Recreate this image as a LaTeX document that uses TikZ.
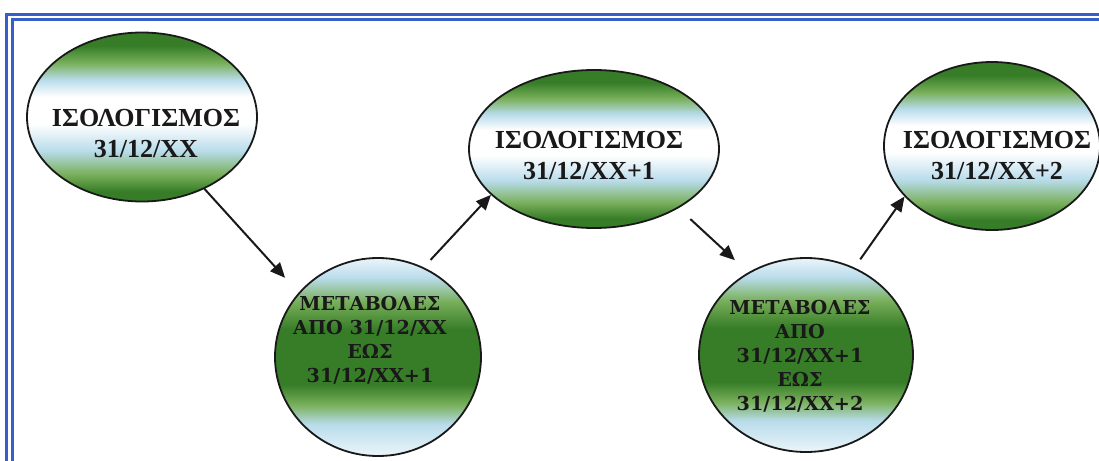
\documentclass[tikz,border=0pt]{standalone}
\usepackage{xcolor}
\usepackage{fontspec}
\setmainfont{Liberation Serif}
\newfontfamily\chgfont{DejaVu Serif}
\usepackage{tikz}
\usetikzlibrary{shapes.geometric, arrows.meta}

\definecolor{framebl}{RGB}{55,95,200}
\definecolor{gdark}{RGB}{55,125,40}
\definecolor{gmid}{RGB}{120,175,90}
\definecolor{skyb}{RGB}{185,220,235}
\definecolor{pale}{RGB}{235,245,250}
\definecolor{ink}{RGB}{25,25,25}

\pgfdeclareverticalshading{balshade}{100bp}{color(0bp)=(gdark); color(28bp)=(gdark); color(33bp)=(gmid); color(40bp)=(skyb); color(48bp)=(white); color(56bp)=(white); color(61bp)=(skyb); color(66bp)=(gmid); color(71bp)=(gdark); color(100bp)=(gdark)}
\pgfdeclareverticalshading{chgshade}{100bp}{color(0bp)=(pale); color(25bp)=(pale); color(33bp)=(skyb); color(38bp)=(gmid); color(43bp)=(gdark); color(57bp)=(gdark); color(64bp)=(gmid); color(70bp)=(skyb); color(75bp)=(pale); color(100bp)=(pale)}

\begin{document}
\begin{tikzpicture}[x=0.5pt,y=-0.5pt,
                    frame/.style={draw=framebl,line width=1.2pt},
                    bal node/.style={ellipse,draw=ink,line width=0.9pt,inner sep=0pt,shade,shading=balshade},
                    chg node/.style={ellipse,draw=ink,line width=0.9pt,inner sep=0pt,shade,shading=chgshade},
                    bal text/.style={align=center,text=ink,font=\fontsize{13}{15.5}\selectfont\bfseries},
                    chg text/.style={align=center,text=ink,font=\chgfont\fontsize{9.6}{12}\selectfont\bfseries},
                    arr/.style={-{Triangle[length=7.5pt,width=6.5pt]},draw=ink,line width=1pt}]
  \useasboundingbox (0,0) rectangle (1099,461);

  % double blue frame, only top and left sides show
  \draw[frame] (6.5,461) |- (1099,14.5);
  \draw[frame] (12.5,461) |- (1099,19.5);

  \node[bal node,minimum width=230pt*0.5,minimum height=169pt*0.5] (1) at (142,117) {};
  \node[chg node,minimum width=206pt*0.5,minimum height=198pt*0.5] (2) at (378,357) {};
  \node[bal node,minimum width=250pt*0.5,minimum height=158pt*0.5] (3) at (594,149) {};
  \node[chg node,minimum width=214pt*0.5,minimum height=194pt*0.5] (4) at (806,355) {};
  \node[bal node,minimum width=216pt*0.5,minimum height=168pt*0.5] (5) at (992,146) {};

  \node[bal text] (t1) at (146,134) {ΙΣΟΛΟΓΙΣΜΟΣ\\31/12/XX};
  \node[chg text] (t2) at (370,340) {ΜΕΤΑΒΟΛΕΣ\\ΑΠΟ 31/12/XX\\ΕΩΣ\\31/12/XX+1};
  \node[bal text] (t3) at (589,156) {ΙΣΟΛΟΓΙΣΜΟΣ\\31/12/XX+1};
  \node[chg text] (t4) at (800,356) {ΜΕΤΑΒΟΛΕΣ\\ΑΠΟ\\31/12/XX+1\\ΕΩΣ\\31/12/XX+2};
  \node[bal text] (t5) at (997,156) {ΙΣΟΛΟΓΙΣΜΟΣ\\31/12/XX+2};

  \path[every edge/.style={arr}]
    (1.-49) edge[shorten >=10pt] (2.141)
    (2.63) edge[shorten <=5pt] (3.204)
    (3.-35) edge[shorten <=8pt,shorten >=9pt] (4.125)
    (4.61) edge[shorten <=5pt] (5.210)
    ;
\end{tikzpicture}
\end{document}
